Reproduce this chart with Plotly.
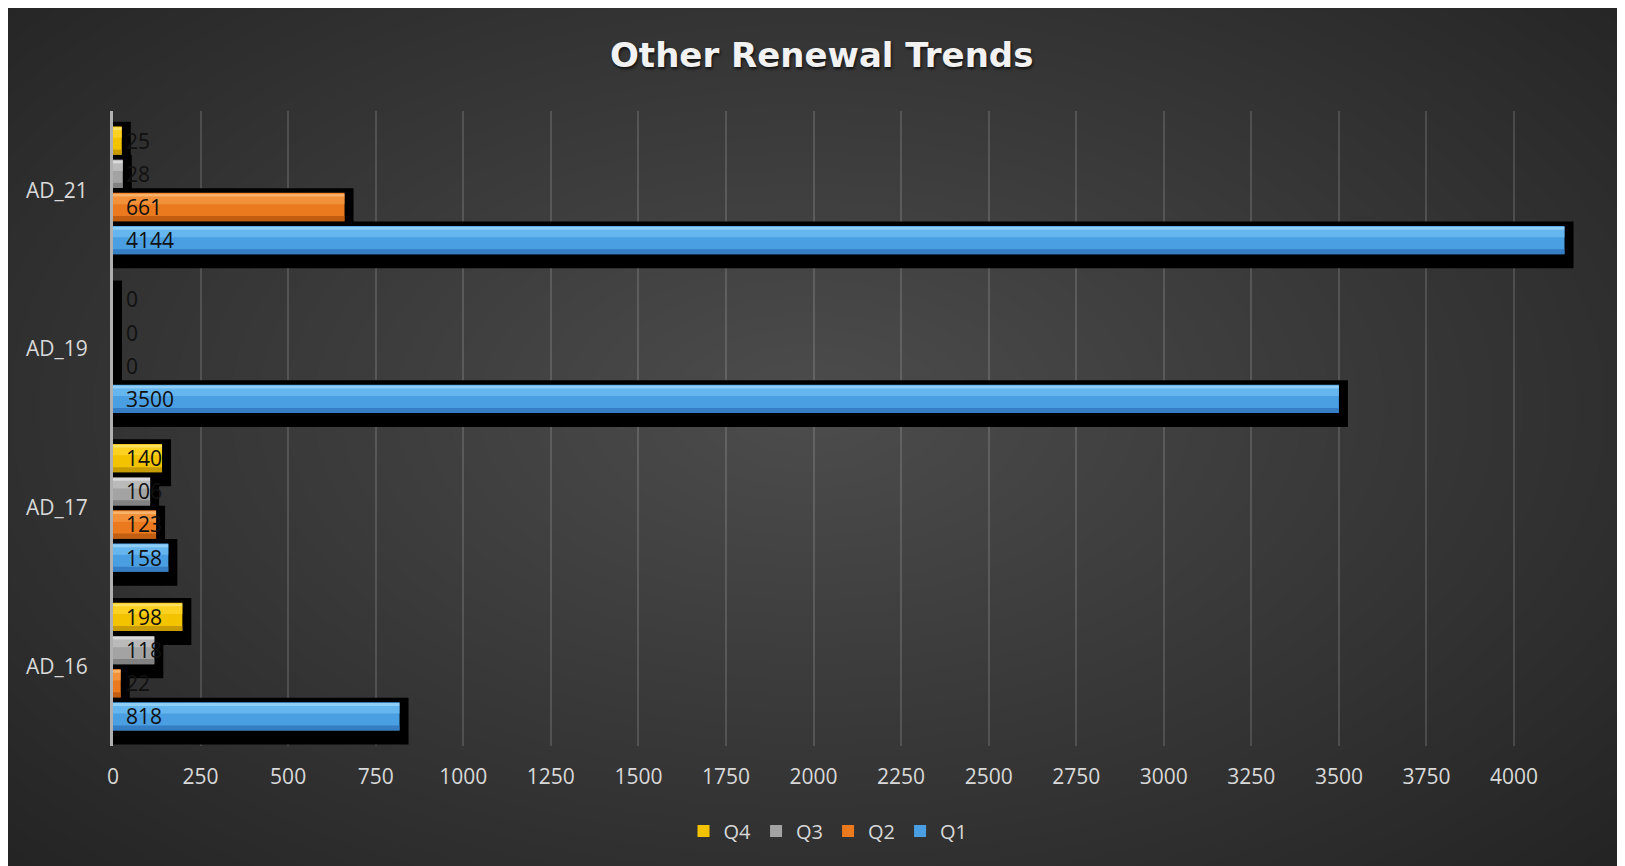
import plotly.graph_objects as go

# ---------------- data ----------------
categories = ["AD_16", "AD_17", "AD_19", "AD_21"]
series_names = ["Q1", "Q2", "Q3", "Q4"]
q1 = [818, 158, 3500, 4144]
q2 = [22, 123, 0, 661]
q3 = [118, 106, 0, 28]
q4 = [198, 140, 0, 25]
series_values = [q1, q2, q3, q4]
x_ticks = list(range(0, 4001, 250))

# ---------------- styles ----------------
# (main, light, top edge, dark)
palette = {
    "Q1": ("#4a9fe3", "#6fbcf3", "#a6defd", "#2f73ba"),
    "Q2": ("#eb7a1f", "#f59a45", "#ffc684", "#b4560e"),
    "Q3": ("#a3a3a3", "#c2c2c2", "#ececec", "#777777"),
    "Q4": ("#f3c300", "#ffd52c", "#ffea80", "#b98f00"),
}

PAGE_OFF = 8  # default body margin of the html page
W, H = 1625 - PAGE_OFF, 866 - PAGE_OFF
L, R, T, B = 105, 50, 103, 120
plot_w = W - L - R
plot_h = H - T - B
x_max = 4174
px_per_unit_x = plot_w / x_max
px_per_cat = plot_h / len(categories)
u = 1.0 / px_per_cat

bar_step_px = 33.2
bar_thick_px = 28.3
sh_up, sh_down, sh_right = 4.6, 14.0, 9.0


def px_x(px):
    return (px - L) / plot_w


def px_y(py):
    return (H - B - py) / plot_h


fig = go.Figure()

centers = [(k - 1.5) * bar_step_px * u for k in range(len(series_names))]
half = bar_thick_px / 2 * u

# shadows
for k, (name, vals) in enumerate(zip(series_names, series_values)):
    fig.add_trace(go.Bar(
        y=categories, x=[v + sh_right / px_per_unit_x for v in vals],
        orientation="h", base=0,
        offset=centers[k] - half - sh_down * u,
        width=(bar_thick_px + sh_down + sh_up) * u,
        marker=dict(color="#000000", line=dict(width=0)),
        showlegend=False, hoverinfo="skip",
    ))

# main bars with bevel strips
for k, (name, vals) in enumerate(zip(series_names, series_values)):
    main, light, edge, dark = palette[name]
    fig.add_trace(go.Bar(
        y=categories, x=vals, orientation="h", name=name,
        offset=centers[k] - half, width=bar_thick_px * u,
        marker=dict(color=main, line=dict(width=0)),
        showlegend=True,
    ))
    strips = [
        (-half, 0.18 * bar_thick_px * u, dark),
        (half - 0.40 * bar_thick_px * u, 0.28 * bar_thick_px * u, light),
        (half - 0.13 * bar_thick_px * u, 0.10 * bar_thick_px * u, edge),
    ]
    for off, wdt, col in strips:
        fig.add_trace(go.Bar(
            y=categories, x=vals, orientation="h",
            offset=centers[k] + off, width=wdt,
            marker=dict(color=col, line=dict(width=0), opacity=0.75),
            showlegend=False, hoverinfo="skip",
        ))

# value labels
annotations = []
for k, vals in enumerate(series_values):
    for i, v in enumerate(vals):
        annotations.append(dict(
            x=0, y=i + centers[k], xref="x", yref="y", text=str(v),
            showarrow=False, xanchor="left", yanchor="middle", xshift=11,
            font=dict(family="Open Sans", size=21, color="#101010"),
        ))

# background shapes
shapes = [
    dict(type="rect", xref="paper", yref="paper", layer="below",
         x0=px_x(0), x1=px_x(W + 20), y0=px_y(H + 20), y1=px_y(0),
         fillcolor="#242424", line=dict(width=0)),
]
cx, cy = 800, 400
n_rings = 40
for j in range(n_rings):
    f = 1 - j / n_rings
    rx, ry = 1100 * f, 640 * f
    shapes.append(dict(
        type="circle", xref="paper", yref="paper", layer="below",
        x0=px_x(cx - rx), x1=px_x(cx + rx), y0=px_y(cy + ry), y1=px_y(cy - ry),
        fillcolor="rgba(255,255,255,0.0092)", line=dict(width=0)))

fig.update_layout(
    width=W, height=H,
    margin=dict(l=L, r=R, t=T, b=B, autoexpand=False),
    barmode="overlay",
    paper_bgcolor="#ffffff",
    plot_bgcolor="rgba(0,0,0,0)",
    shapes=shapes,
    annotations=annotations,
    title=dict(text="<b>Other Renewal Trends</b>", x=813.7 / W, xref="container",
               xanchor="center", y=1 - 47 / H, yref="container", yanchor="middle",
               font=dict(family="DejaVu Sans", size=34, color="#f2f2f2",
                         shadow="1px 2px 3px rgba(0,0,0,0.7)")),
    xaxis=dict(range=[0, x_max], tickvals=x_ticks, showgrid=True,
               gridcolor="rgba(255,255,255,0.14)", gridwidth=2,
               zeroline=False, showline=False,
               tickfont=dict(family="Open Sans", size=21, color="#d9d9d9"),
               ticklabelstandoff=16, fixedrange=True),
    yaxis=dict(type="category", categoryorder="array", categoryarray=categories,
               range=[-0.5, len(categories) - 0.5], showgrid=False,
               zeroline=False, showline=True, linecolor="#b0b0b0", linewidth=3,
               tickfont=dict(family="Open Sans", size=21, color="#d9d9d9"),
               ticklabelstandoff=18, fixedrange=True),
    legend=dict(orientation="h", x=820 / W, xref="container", xanchor="center",
                y=1 - 823 / H, yref="container", yanchor="middle",
                traceorder="reversed",
                font=dict(family="Open Sans", size=20, color="#d9d9d9"),
                bgcolor="rgba(0,0,0,0)", itemwidth=30),
    showlegend=True,
)

fig.write_html("out.html")
